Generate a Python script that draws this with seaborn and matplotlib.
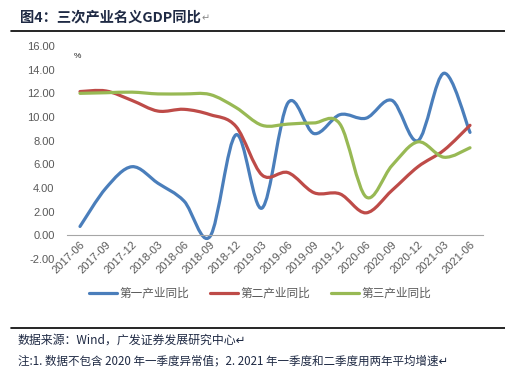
import numpy as np
import pandas as pd
import matplotlib
matplotlib.use("Agg")
import matplotlib.pyplot as plt
from matplotlib.path import Path
from matplotlib.patches import PathPatch
from matplotlib.lines import Line2D
import seaborn as sns

# quarterly nominal GDP yoy by industry (%), 2020-03 left out
quarters = ['2017-06', '2017-09', '2017-12', '2018-03', '2018-06', '2018-09',
            '2018-12', '2019-03', '2019-06', '2019-09', '2019-12', '2020-06',
            '2020-09', '2020-12', '2021-03', '2021-06']
primary = [0.75, 4.0, 5.8, 4.4, 2.9, -0.1, 8.5, 2.3, 11.2, 8.6, 10.2, 9.9,
           11.4, 8.0, 13.7, 8.7]
secondary = [12.15, 12.2, 11.4, 10.5, 10.65, 10.2, 9.2, 5.1, 5.3, 3.6, 3.5, 1.9,
             3.8, 5.8, 7.2, 9.3]
tertiary = [12.0, 12.05, 12.1, 11.95, 11.95, 11.9, 10.8, 9.3, 9.4, 9.5, 9.4, 3.25,
            5.9, 7.9, 6.6, 7.4]
series_names = ['第一产业同比', '第二产业同比', '第三产业同比']
colors = ['#4A7EBB', '#BE4B48', '#98B954']

df = pd.DataFrame({
    '季度': quarters * 3,
    '同比': primary + secondary + tertiary,
    '系列': [s for s in series_names for _ in quarters],
})

sns.set_style('white')
plt.rcParams['font.family'] = ['Liberation Sans', 'Noto Sans CJK SC', 'DejaVu Sans']
tick_color = '#595959'
text_color = '#1F2A44'


def smooth_path(pts):
    # excel-like smoothed line: cubic bezier through the points
    n = len(pts)
    verts = [pts[0]]
    codes = [Path.MOVETO]
    for i in range(n - 1):
        p0 = pts[max(i - 1, 0)]
        p3 = pts[min(i + 2, n - 1)]
        c1 = pts[i] + (pts[i + 1] - p0) / 6
        c2 = pts[i + 1] - (p3 - pts[i]) / 6
        verts += [c1, c2, pts[i + 1]]
        codes += [Path.CURVE4] * 3
    return Path(verts, codes)


fig = plt.figure(figsize=(5.06, 3.80), dpi=100)
ax = fig.add_axes([67 / 506, 1 - 259 / 380, 416 / 506, 213 / 380])

sns.lineplot(data=df, x='季度', y='同比', hue='系列', hue_order=series_names,
             palette=colors, legend=False, ax=ax)

# swap the straight polylines for smoothed curves
for line, c in zip(ax.get_lines(), colors):
    pts = np.asarray(line.get_xydata(), dtype=float)
    line.set_visible(False)
    ax.add_patch(PathPatch(smooth_path(pts), facecolor='none', edgecolor=c,
                           lw=2.3, capstyle='round', joinstyle='round'))

ax.set_xlim(-0.5, len(quarters) - 0.5)
ax.set_ylim(-2, 16)
ax.set_yticks(np.arange(-2, 17, 2))
ax.set_yticklabels([f'{v:.2f}' for v in np.arange(-2, 17, 2)])
ax.set_xlabel('')
ax.set_ylabel('')

# category labels centred, tick marks between categories
ax.set_xticks(np.arange(len(quarters)))
ax.set_xticklabels(quarters)
ax.set_xticks(np.arange(-0.5, len(quarters), 1), minor=True)
ax.tick_params(axis='x', which='major', length=0, pad=3, labelrotation=45,
               labelsize=8, labelcolor=tick_color)
ax.tick_params(axis='x', which='minor', length=4, width=0.8, color='#A6A6A6',
               direction='out')
ax.tick_params(axis='y', length=0, pad=9, labelsize=8, labelcolor=tick_color)

for s in ['top', 'right', 'left']:
    ax.spines[s].set_visible(False)
ax.spines['bottom'].set_position(('data', 0))
ax.spines['bottom'].set_color('#A6A6A6')
ax.spines['bottom'].set_linewidth(0.8)
ax.patch.set_alpha(0)

fig.text(74 / 506, 1 - 57 / 380, '%', fontsize=6, color='#222222', va='center')

handles = [Line2D([], [], color=c, lw=2.3) for c in colors]
fig.legend(handles, series_names, loc='center', bbox_to_anchor=(260 / 506, 1 - 294 / 380),
           ncol=3, frameon=False, fontsize=8.4, handlelength=2.4, handletextpad=0.2,
           columnspacing=1.8, labelcolor=tick_color)

# title and footer
fig.text(20 / 506, 1 - 17 / 380, '图4：三次产业名义GDP同比', fontsize=10.3, fontweight='bold',
         color=text_color, va='center', family=['Noto Sans CJK SC', 'DejaVu Sans'])
fig.text(202 / 506, 1 - 18 / 380, '↵', fontsize=7, color='#888888', va='center',
         family=['DejaVu Sans'])
fig.add_artist(Line2D([11 / 506, 505 / 506], [1 - 31 / 380] * 2, color='black', lw=1.2))
fig.add_artist(Line2D([11 / 506, 505 / 506], [1 - 328 / 380] * 2, color='black', lw=1.2))
fig.text(18 / 506, 1 - 340 / 380, '数据来源：Wind，广发证券发展研究中心↵', fontsize=8.6,
         color=text_color, va='center', family=['Noto Sans CJK SC', 'DejaVu Sans'])
fig.text(18 / 506, 1 - 361 / 380,
         '注:1. 数据不包含 2020 年一季度异常值；2. 2021 年一季度和二季度用两年平均增速↵',
         fontsize=8.3, color=text_color, va='center',
         family=['Noto Sans CJK SC', 'DejaVu Sans'])

for lab in ax.get_xticklabels():
    lab.set_ha('right')
    lab.set_rotation_mode('anchor')

fig.savefig('out.png', dpi=100)
